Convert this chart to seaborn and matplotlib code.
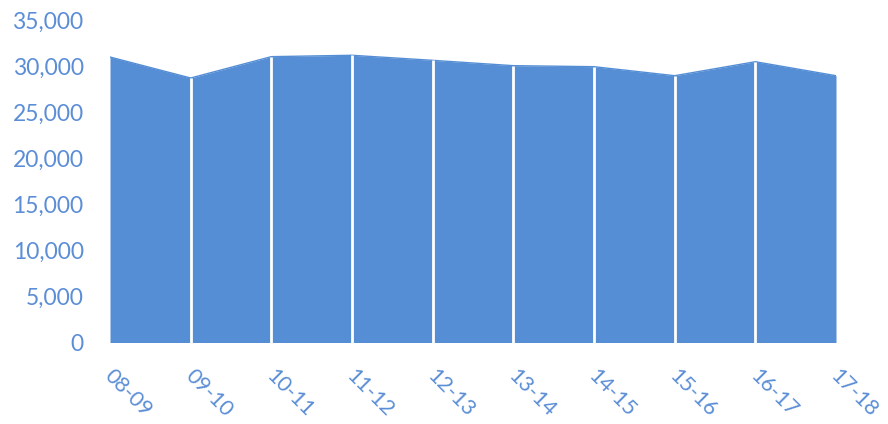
import matplotlib
matplotlib.use("Agg")
import matplotlib.pyplot as plt
import matplotlib.transforms as mtransforms
import seaborn as sns
import pandas as pd
import numpy as np

# Academic years and the yearly totals
seasons = ["08-09", "09-10", "10-11", "11-12", "12-13",
           "13-14", "14-15", "15-16", "16-17", "17-18"]
totals = [31030, 28750, 31070, 31220, 30670,
          30090, 29980, 29000, 30520, 29000]
y_ticks = [0, 5000, 10000, 15000, 20000, 25000, 30000, 35000]

AREA = "#558ED5"
TEXT = "#5B8ED6"

sns.set_style("white")
plt.rcParams["font.family"] = ["Lato", "DejaVu Sans"]

df = pd.DataFrame({"season": seasons, "total": totals})
df["pos"] = np.arange(len(df))

fig = plt.figure(figsize=(8.88, 4.24), dpi=100)
ax = fig.add_axes([110 / 888, 81.5 / 424, 726 / 888, 322 / 424])

# area under the series
ax.fill_between(df["pos"], 0, df["total"], color=AREA, linewidth=0, zorder=1)
sns.lineplot(data=df, x="pos", y="total", ax=ax, color=AREA,
             linewidth=1.0, zorder=2)

# white drop lines separating the years
inner = df.iloc[1:-1]
ax.vlines(inner["pos"], 0, inner["total"], color="white", linewidth=2.0, zorder=3)

ax.set_xlim(0, len(df) - 1)
ax.set_ylim(0, 35000)
ax.set_yticks(y_ticks)
ax.set_yticklabels([f"{v:,}" for v in y_ticks])
ax.set_xticks(df["pos"])
ax.set_xticklabels(df["season"], rotation=-45, ha="left", va="top",
                   rotation_mode="anchor")
ax.tick_params(axis="y", length=0, pad=19, labelsize=16.5, labelcolor=TEXT)
ax.tick_params(axis="x", length=0, pad=17, labelsize=15.5, labelcolor=TEXT)

# nudge the slanted year labels a little to the right
shift = mtransforms.ScaledTranslation(5 / 100, 0, fig.dpi_scale_trans)
for lbl in ax.get_xticklabels():
    lbl.set_transform(lbl.get_transform() + shift)

ax.set_xlabel("")
ax.set_ylabel("")
sns.despine(ax=ax, left=True, bottom=True)

fig.savefig("out.png", dpi=100)
